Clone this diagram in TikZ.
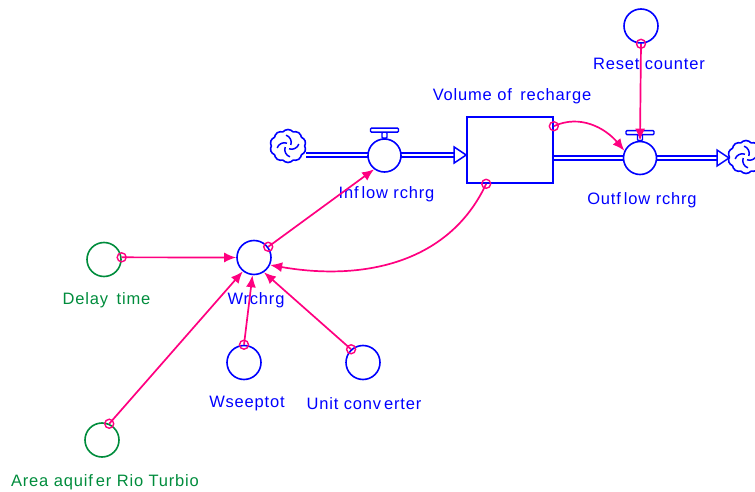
\documentclass[tikz,border=0pt]{standalone}
\usepackage{fontspec}
\setmainfont[LetterSpace=5]{Liberation Sans}
\usetikzlibrary{shapes.symbols,arrows.meta,calc}
\definecolor{vblue}{RGB}{0,0,255}
\definecolor{vgreen}{RGB}{0,140,60}
\definecolor{vpink}{RGB}{255,0,128}
\begin{document}
\begin{tikzpicture}[x=1pt,y=1pt,
 aux/.style={circle, draw=vblue, line width=1.6pt, minimum size=34pt, inner sep=0pt},
 auxg/.style={aux, draw=vgreen},
 valve/.style={aux, fill=white, minimum size=33pt},
 stockbox/.style={draw=vblue, line width=1.6pt, minimum width=86pt, minimum height=66pt, inner sep=0pt},
 cloudnode/.style={cloud, cloud puffs=10, cloud puff arc=100, aspect=1.1, draw=vblue, line width=1.6pt, minimum width=36pt, minimum height=33pt, inner sep=0pt},
 lbl/.style={text=vblue, font=\fontsize{16.5}{18}\selectfont, inner sep=0pt},
 lblg/.style={lbl, text=vgreen},
 pipe/.style={draw=vblue, line width=1.4pt, double=white, double distance=2.4pt},
 pipehead/.style={draw=vblue, line width=1.5pt, fill=white, line join=miter},
 valvebar/.style={draw=vblue, line width=1.4pt, fill=white, rounded corners=1pt},
 swirl/.style={draw=vblue, line width=1.5pt},
 conn/.style={draw=vpink, line width=1.7pt, -{Latex[length=12pt,width=10pt]}},
 sdot/.style={circle, draw=vpink, line width=1.4pt, minimum size=9pt, inner sep=0pt},
]
\useasboundingbox (0,0) rectangle (755,491);

% stock and flows
\node[stockbox] (stock) at (510,341) {};
\node[cloudnode] (cloud1) at (288,345) {};
\node[cloudnode] (cloud2) at (746,334) {};
\foreach \c in {cloud1,cloud2}{
  \foreach \a in {20,110,200,290}{
    \draw[swirl] ($(\c)+(\a:3)$) to[bend right=45] ($(\c)+(\a+80:11)$);
  }
}
\coordinate (pinL) at (cloud1.east |- 0,336);
\coordinate (tipIn) at (stock.west |- 0,336);
\coordinate (poutR) at (stock.east |- 0,333);
\coordinate (tipOut) at (729,333);

\draw[pipe] (pinL) -- ($(tipIn)+(-12,0)$);
\draw[pipehead] (tipIn) -- ++(-12,8) -- ++(0,-16) -- cycle;
\draw[pipe] (poutR) -- ($(tipOut)+(-12,0)$);
\draw[pipehead] (tipOut) -- ++(-12,8) -- ++(0,-16) -- cycle;

\node[valve] (valveIn) at (384.5,335.5) {};
\node[valve] (valveOut) at (640,333) {};
\foreach \v in {valveIn,valveOut}{
  \draw[valvebar] ($(\v.north)+(-2.5,0)$) rectangle ($(\v.north)+(2.5,6)$);
  \draw[valvebar] ($(\v.north)+(-14,6)$) rectangle ($(\v.north)+(14,10)$);
}

% auxiliaries
\node[aux] (reset) at (641,465) {};
\node[aux] (wrchrg) at (254,233.5) {};
\node[auxg] (delay) at (104,231.5) {};
\node[aux] (wseep) at (244,128.5) {};
\node[aux] (unit) at (363,128.5) {};
\node[auxg] (area) at (102,51) {};

% labels
\node[lbl] (lvol) at (512,395) {Volume of\kern3pt\ recharge};
\node[lbl] (lreset) at (649,427) {Reset counter};
\node[lbl] (lin) at (386.5,297) {Inf\kern3pt low rchrg};
\node[lbl] (lout) at (642,291) {Outf\kern3pt low rchrg};
\node[lbl] (lwr) at (256,191) {Wrchrg};
\node[lblg] (ldelay) at (106.5,191) {Delay\kern3pt\ time};
\node[lbl] (lwseep) at (247,87) {Wseeptot};
\node[lbl] (lunit) at (364,87) {Unit conv\kern3pt erter};
\node[lblg] (larea) at (105,9) {Area aquif\kern3pt er Rio Turbio};

% connectors
\draw[conn] (reset.south) node[sdot]{} -- (valveOut.north);
\draw[conn] ([yshift=-10pt]stock.north east) node[sdot]{} to[out=25, in=130] (valveOut.155);
\draw[conn] ([xshift=20pt]stock.south west) node[sdot]{} to[out=-115, in=-10] (wrchrg.-25);
\draw[conn] (wrchrg.37) node[sdot]{} -- (valveIn.233);
\draw[conn] (delay.7) node[sdot]{} -- (wrchrg.west);
\draw[conn] (area.66) node[sdot]{} -- (wrchrg.231);
\draw[conn] (wseep.north) node[sdot]{} -- (wrchrg.265);
\draw[conn] (unit.132) node[sdot]{} -- (wrchrg.-56);
\end{tikzpicture}
\end{document}
